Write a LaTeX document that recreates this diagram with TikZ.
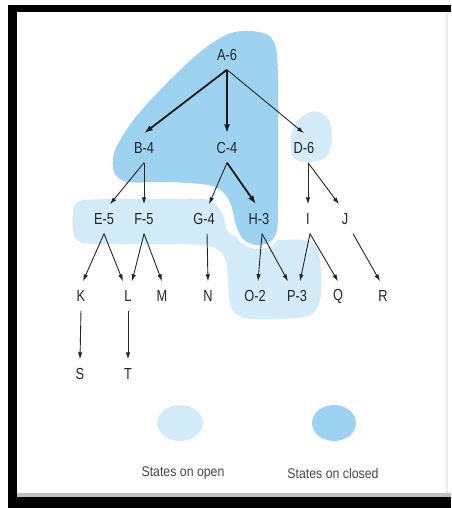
\documentclass[tikz,border=0pt]{standalone}
\usepackage{fontspec}
\setmainfont{Liberation Sans}
\newfontfamily\lblfont[FakeStretch=0.8]{Liberation Sans}
\newfontfamily\legfont[FakeStretch=0.88]{Liberation Sans}
\usetikzlibrary{arrows.meta}
\definecolor{closedblue}{RGB}{158,210,241}
\definecolor{openblue}{RGB}{212,235,250}
\definecolor{ink}{RGB}{35,37,45}
\definecolor{legink}{RGB}{70,70,75}
\begin{document}
\begin{tikzpicture}[x=1pt,y=-1pt,
  lbl/.style={font={\lblfont\fontsize{16pt}{16pt}\selectfont}, text=ink, minimum height=29pt, inner xsep=1pt, inner ysep=0pt},
  legtext/.style={font={\legfont\fontsize{14pt}{14pt}\selectfont}, text=legink, inner sep=0pt},
  edgethin/.style={draw=ink, line width=0.9pt, -{Latex[length=7pt,width=4.5pt]}},
  edgethick/.style={draw=black!90, line width=1.8pt, -{Latex[length=9pt,width=6pt]}},
  halo/.style={draw=white, line width=8pt}
]
\useasboundingbox (0,0) rectangle (451,508);
\fill[white] (0,0) rectangle (451,508);

% frame
\fill[black] (8,5) rectangle (451,12);
\fill[black] (8,5) rectangle (17,508);
\fill[black] (8,497) rectangle (451,508);
\fill[black!25] (17,493) rectangle (451,497);
\fill[black!8] (446,12) rectangle (448,493);

% open region (light)
\fill[openblue] plot[smooth cycle, tension=0.55] coordinates {
  (80,201) (120,199) (170,199) (205,199) (216,204) (224,218) (228,232)
  (245,239) (275,240) (303,240) (316,246) (321,270) (320,300) (310,315)
  (280,319) (245,318) (231,307) (228,280) (225,258) (212,247) (180,244)
  (120,244) (84,243) (74,235) (73,213)};
\fill[openblue] plot[smooth cycle, tension=0.6] coordinates {
  (310,112) (327,117) (332,138) (326,157) (306,162) (292,155) (293,128)};

% closed region (darker)
\def\closedpath{plot[smooth cycle, tension=0.5] coordinates {
  (228,34) (250,31) (268,35) (276,48) (278,80) (278,140) (278,200)
  (277,230) (270,242) (256,245) (243,239) (236,225) (231,205) (223,192)
  (208,185) (170,182) (128,182) (114,172) (115,150) (135,118) (165,85) (200,52)}}
\path[halo] \closedpath;
\fill[closedblue] \closedpath;

% nodes
\node[lbl] (A) at (227,55) {A-6};
\node[lbl] (B) at (144,148) {B-4};
\node[lbl] (C) at (227,148) {C-4};
\node[lbl] (D) at (304,148) {D-6};
\node[lbl] (E) at (104,219) {E-5};
\node[lbl] (F) at (144,219) {F-5};
\node[lbl] (G) at (204,219) {G-4};
\node[lbl] (H) at (259,219) {H-3};
\node[lbl] (I) at (308,219) {I};
\node[lbl] (J) at (345,219) {J};
\node[lbl] (K) at (81,296) {K};
\node[lbl] (L) at (128,296) {L};
\node[lbl] (M) at (162,296) {M};
\node[lbl] (N) at (208,296) {N};
\node[lbl] (O) at (255,296) {O-2};
\node[lbl] (P) at (297,296) {P-3};
\node[lbl] (Q) at (338,296) {Q};
\node[lbl] (R) at (383,296) {R};
\node[lbl] (S) at (80,374) {S};
\node[lbl] (T) at (128,374) {T};

% edges
\draw[edgethick] (A.south) -- (B.north);
\draw[edgethick] (A.south) -- (C.north);
\draw[edgethin] (A.south) -- (D.north);
\draw[edgethin] (B.south) -- ([xshift=6pt]E.north);
\draw[edgethin] (B.south) -- (F.north);
\draw[edgethin] (C.south) -- ([xshift=5pt]G.north);
\draw[edgethick] (C.south) -- ([xshift=-3pt]H.north);
\draw[edgethin] ([xshift=4pt]D.south) -- (I.north);
\draw[edgethin] ([xshift=4pt]D.south) -- ([xshift=-6pt]J.north);
\draw[edgethin] (E.south) -- ([xshift=2pt]K.north);
\draw[edgethin] (E.south) -- ([xshift=-5pt]L.north);
\draw[edgethin] (F.south) -- ([xshift=4pt]L.north);
\draw[edgethin] (F.south) -- (M.north);
\draw[edgethin] ([xshift=3pt]G.south) -- (N.north);
\draw[edgethin] ([xshift=3pt]H.south) -- ([xshift=3pt]O.north);
\draw[edgethin] ([xshift=3pt]H.south) -- ([xshift=-9pt]P.north);
\draw[edgethin] ([xshift=2pt]I.south) -- ([xshift=3pt]P.north);
\draw[edgethin] ([xshift=2pt]I.south) -- (Q.north);
\draw[edgethin] ([xshift=8pt]J.south) -- ([xshift=-3pt]R.north);
\draw[edgethin] (K.south) -- (S.north);
\draw[edgethin] (L.south) -- (T.north);

% legend
\fill[openblue] (180,423) ellipse [x radius=23, y radius=18];
\fill[closedblue] (334,423) ellipse [x radius=22, y radius=18];
\node[legtext] (lo) at (183,473) {States on open};
\node[legtext] (lc) at (333,473) {States on closed};
\end{tikzpicture}
\end{document}
